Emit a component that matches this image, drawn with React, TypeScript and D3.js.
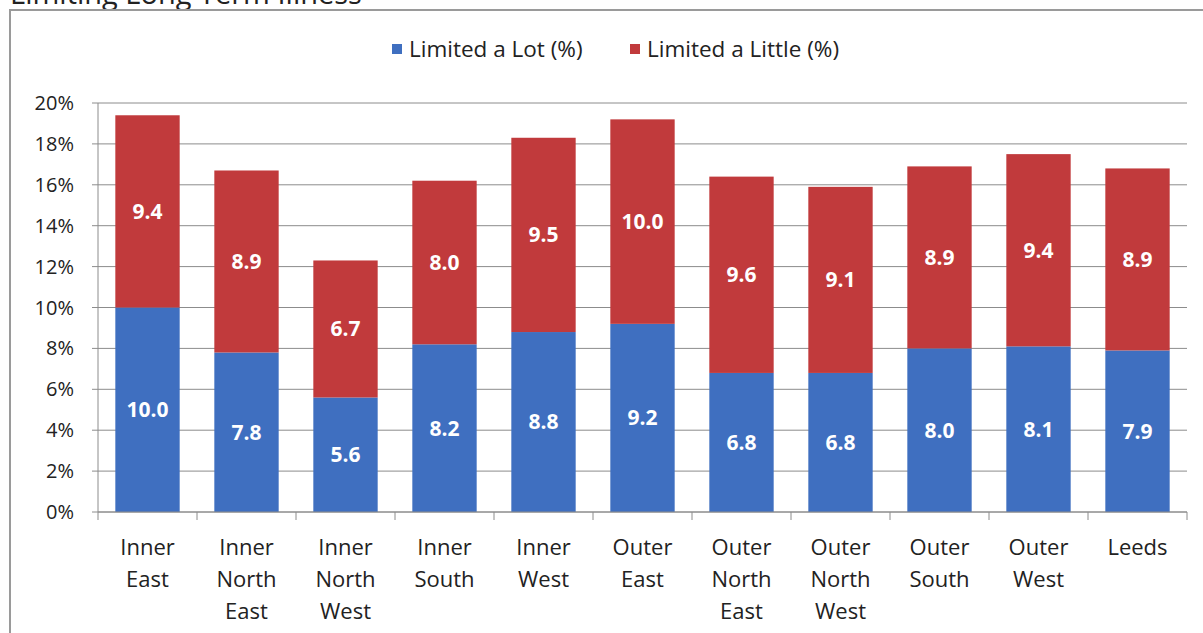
import React from "react";
import * as d3 from "d3";

const categories: string[][] = [
  ["Inner", "East"],
  ["Inner", "North", "East"],
  ["Inner", "North", "West"],
  ["Inner", "South"],
  ["Inner", "West"],
  ["Outer", "East"],
  ["Outer", "North", "East"],
  ["Outer", "North", "West"],
  ["Outer", "South"],
  ["Outer", "West"],
  ["Leeds"],
];
const limitedALot: number[] = [10.0, 7.8, 5.6, 8.2, 8.8, 9.2, 6.8, 6.8, 8.0, 8.1, 7.9];
const limitedALittle: number[] = [9.4, 8.9, 6.7, 8.0, 9.5, 10.0, 9.6, 9.1, 8.9, 9.4, 8.9];
const yTicks: number[] = [0, 2, 4, 6, 8, 10, 12, 14, 16, 18, 20];
const seriesNames: string[] = ["Limited a Lot (%)", "Limited a Little (%)"];
const title = "Limiting Long Term Illness";

const W = 1203;
const H = 633;
const FONT = "'Open Sans', 'Noto Sans', sans-serif";
const BLUE = "#3f6fc0";
const RED = "#c13a3c";

export default function App() {
  const left = 98;
  const right = 1187;
  const top = 103;
  const bottom = 512;
  const keys = categories.map((_, i) => String(i));
  const x = d3.scaleBand<string>().domain(keys).range([left, right]).paddingInner(0.35).paddingOuter(0.175);
  const y = d3.scaleLinear().domain([0, 20]).range([bottom, top]);
  const step = x.step();

  return (
    <svg width={W} height={H} style={{ position: "absolute", left: 0, top: 0, background: "#fff" }} fontFamily={FONT}>
      <rect x={0} y={0} width={W} height={H} fill="#fff" />
      <text x={10} y={4} fontSize={29} fill="#222">{title}</text>
      <rect x={10} y={10} width={W + 20} height={H} fill="#fff" stroke="#9a9a9a" strokeWidth={2} />

      {/* legend */}
      <g>
        <rect x={392} y={44} width={10} height={10} fill={BLUE} />
        <text x={409} y={49} dy="0.35em" fontSize={22.5} fill="#222">{seriesNames[0]}</text>
        <rect x={630} y={44} width={10} height={10} fill={RED} />
        <text x={647} y={49} dy="0.35em" fontSize={22.5} fill="#222">{seriesNames[1]}</text>
      </g>

      {/* gridlines and y axis */}
      {yTicks.map((t) => (
        <g key={t}>
          <line x1={left - 6} x2={right} y1={y(t)} y2={y(t)} stroke="#8c8c8c" strokeWidth={1} />
          <text x={74} y={y(t)} dy="0.35em" textAnchor="end" fontSize={20} fill="#222">{t}%</text>
        </g>
      ))}
      <line x1={left} x2={left} y1={top} y2={bottom} stroke="#8c8c8c" strokeWidth={1} />

      {/* bars */}
      {keys.map((k, i) => {
        const x0 = x(k)!;
        const bw = x.bandwidth();
        const a = limitedALot[i];
        const b = limitedALittle[i];
        return (
          <g key={k}>
            <rect x={x0} y={y(a)} width={bw} height={y(0) - y(a)} fill={BLUE} />
            <rect x={x0} y={y(a + b)} width={bw} height={y(a) - y(a + b)} fill={RED} />
            <text x={x0 + bw / 2} y={(y(0) + y(a)) / 2} dy="0.35em" textAnchor="middle" fontSize={21} fontWeight="bold" fill="#fff">{a.toFixed(1)}</text>
            <text x={x0 + bw / 2} y={(y(a) + y(a + b)) / 2} dy="0.35em" textAnchor="middle" fontSize={21} fontWeight="bold" fill="#fff">{b.toFixed(1)}</text>
          </g>
        );
      })}

      {/* x axis */}
      <line x1={left} x2={right} y1={bottom} y2={bottom} stroke="#8c8c8c" strokeWidth={1} />
      {d3.range(categories.length + 1).map((i) => (
        <line key={i} x1={left + i * step} x2={left + i * step} y1={bottom} y2={bottom + 8} stroke="#8c8c8c" strokeWidth={1} />
      ))}
      {keys.map((k, i) => (
        <text key={k} textAnchor="middle" fontSize={22} fill="#222">
          {categories[i].map((line, j) => (
            <tspan key={j} x={x(k)! + x.bandwidth() / 2} y={547 + j * 32} dy="0.35em">{line}</tspan>
          ))}
        </text>
      ))}
    </svg>
  );
}
